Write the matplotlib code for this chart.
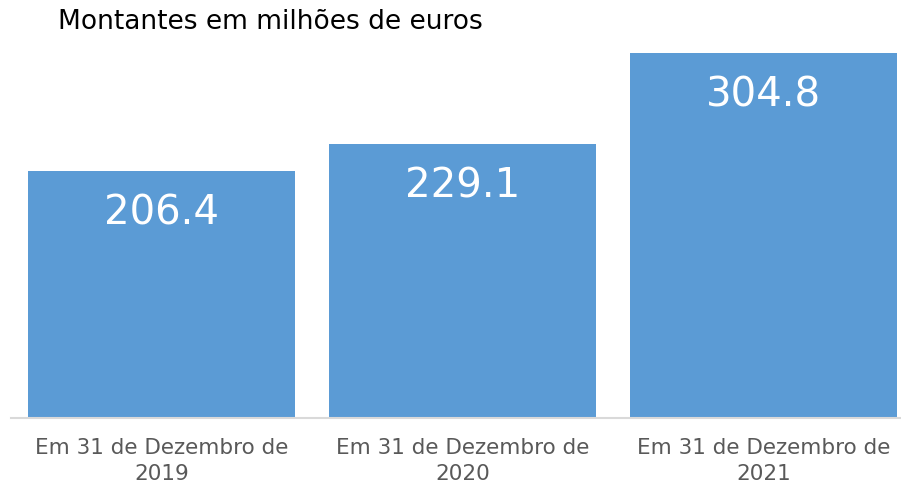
import matplotlib
matplotlib.use("Agg")
import matplotlib.pyplot as plt

# dados do grafico
categorias = ["Em 31 de Dezembro de\n2019", "Em 31 de Dezembro de\n2020", "Em 31 de Dezembro de\n2021"]
valores = [206.4, 229.1, 304.8]
titulo = "Montantes em milhões de euros"

plt.rcParams['font.family'] = ['DejaVu Sans']

fig = plt.figure(figsize=(9.01, 4.85), dpi=100)
# eixo posicionado em pixels: baseline em y=419, começa em x=11
ax = fig.add_axes([11/901, 1 - 419/485, 1 - 11/901, (419 - 36)/485])

x = range(len(valores))
barras = ax.bar(x, valores, width=0.887, color="#5b9bd5", zorder=2)

ax.set_xlim(-0.5, (901 - 11)/301 - 0.5)
ax.set_ylim(0, 320)

for b, v in zip(barras, valores):
    ax.annotate(f"{v:.1f}", (b.get_x() + b.get_width()/2, v),
                xytext=(0, -30), textcoords="offset points",
                ha="center", va="center", color="white", fontsize=29)

for s in ["top", "right", "left"]:
    ax.spines[s].set_visible(False)
ax.spines["bottom"].set_color("#d9d9d9")
ax.spines["bottom"].set_linewidth(1.5)
ax.set_yticks([])
ax.set_xticks(list(x))
ax.set_xticklabels(categorias, fontsize=15.5, color="#595959", linespacing=1.35)
ax.tick_params(axis="x", length=0, pad=14)

fig.text(58/901, 1 - 22/485, titulo, fontsize=19, color="black", ha="left", va="center")

fig.savefig("out.png", dpi=100)
